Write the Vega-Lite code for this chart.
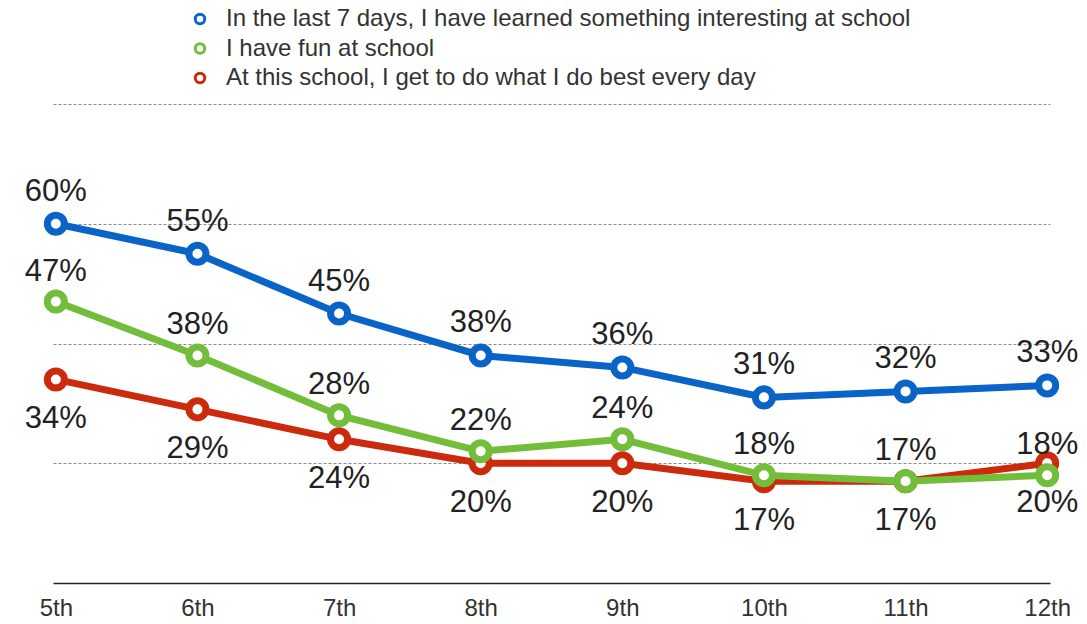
{
  "$schema": "https://vega.github.io/schema/vega-lite/v6.json",
  "width": 997,
  "height": 479,
  "autosize": {"type": "none"},
  "padding": {"left": 53, "top": 104, "right": 37, "bottom": 41},
  "background": "white",
  "config": {
    "view": {"stroke": null},
    "font": "Liberation Sans"
  },
  "data": {
    "values": [
      {"grade": "5th", "series": "In the last 7 days, I have learned something interesting at school", "value": 0.60},
      {"grade": "6th", "series": "In the last 7 days, I have learned something interesting at school", "value": 0.55},
      {"grade": "7th", "series": "In the last 7 days, I have learned something interesting at school", "value": 0.45},
      {"grade": "8th", "series": "In the last 7 days, I have learned something interesting at school", "value": 0.38},
      {"grade": "9th", "series": "In the last 7 days, I have learned something interesting at school", "value": 0.36},
      {"grade": "10th", "series": "In the last 7 days, I have learned something interesting at school", "value": 0.31},
      {"grade": "11th", "series": "In the last 7 days, I have learned something interesting at school", "value": 0.32},
      {"grade": "12th", "series": "In the last 7 days, I have learned something interesting at school", "value": 0.33},
      {"grade": "5th", "series": "I have fun at school", "value": 0.47},
      {"grade": "6th", "series": "I have fun at school", "value": 0.38},
      {"grade": "7th", "series": "I have fun at school", "value": 0.28},
      {"grade": "8th", "series": "I have fun at school", "value": 0.22},
      {"grade": "9th", "series": "I have fun at school", "value": 0.24},
      {"grade": "10th", "series": "I have fun at school", "value": 0.18},
      {"grade": "11th", "series": "I have fun at school", "value": 0.17},
      {"grade": "12th", "series": "I have fun at school", "value": 0.18},
      {"grade": "5th", "series": "At this school, I get to do what I do best every day", "value": 0.34},
      {"grade": "6th", "series": "At this school, I get to do what I do best every day", "value": 0.29},
      {"grade": "7th", "series": "At this school, I get to do what I do best every day", "value": 0.24},
      {"grade": "8th", "series": "At this school, I get to do what I do best every day", "value": 0.20},
      {"grade": "9th", "series": "At this school, I get to do what I do best every day", "value": 0.20},
      {"grade": "10th", "series": "At this school, I get to do what I do best every day", "value": 0.17},
      {"grade": "11th", "series": "At this school, I get to do what I do best every day", "value": 0.17},
      {"grade": "12th", "series": "At this school, I get to do what I do best every day", "value": 0.20}
    ]
  },
  "encoding": {
    "x": {
      "field": "grade",
      "type": "ordinal",
      "sort": ["5th", "6th", "7th", "8th", "9th", "10th", "11th", "12th"],
      "scale": {"type": "point", "padding": 0.02},
      "axis": {
        "title": null,
        "labelAngle": 0,
        "labelFontSize": 24,
        "labelColor": "#333333",
        "labelPadding": 13,
        "ticks": false,
        "domainColor": "#222222",
        "domainWidth": 1.5,
        "grid": false
      }
    },
    "y": {
      "field": "value",
      "type": "quantitative",
      "scale": {"domain": [0, 0.8], "nice": false, "zero": true},
      "axis": {
        "title": null,
        "values": [0.2, 0.4, 0.6, 0.8],
        "labels": false,
        "ticks": false,
        "domain": false,
        "grid": true,
        "gridColor": "#8a8a8a",
        "gridDash": [3, 2],
        "gridWidth": 1
      }
    }
  },
  "layer": [
    {
      "transform": [{"filter": "datum.series === 'At this school, I get to do what I do best every day'"}],
      "mark": {"type": "line", "strokeWidth": 7, "point": {"filled": false, "fill": "white", "size": 290, "strokeWidth": 7}},
      "encoding": {
        "color": {
          "field": "series",
          "type": "nominal",
          "scale": {
            "domain": ["In the last 7 days, I have learned something interesting at school", "I have fun at school", "At this school, I get to do what I do best every day"],
            "range": ["#0a64c8", "#72be3a", "#cc2a0c"]
          },
          "legend": {
            "title": null,
            "orient": "none",
            "legendX": 135,
            "legendY": -97,
            "symbolType": "circle",
            "symbolFillColor": "white",
            "symbolStrokeWidth": 3,
            "symbolSize": 90,
            "labelFontSize": 24,
            "labelColor": "#333333",
            "labelOffset": 14,
            "labelLimit": 900,
            "rowPadding": 5.5
          }
        }
      }
    },
    {
      "transform": [{"filter": "datum.series === 'I have fun at school'"}],
      "mark": {"type": "line", "strokeWidth": 7, "point": {"filled": false, "fill": "white", "size": 290, "strokeWidth": 7}},
      "encoding": {"color": {"field": "series", "type": "nominal"}}
    },
    {
      "transform": [{"filter": "datum.series === 'In the last 7 days, I have learned something interesting at school'"}],
      "mark": {"type": "line", "strokeWidth": 7, "point": {"filled": false, "fill": "white", "size": 290, "strokeWidth": 7}},
      "encoding": {"color": {"field": "series", "type": "nominal"}}
    },
    {
      "transform": [{"filter": "datum.series === 'In the last 7 days, I have learned something interesting at school'"}],
      "mark": {"type": "text", "dy": -32, "fontSize": 31, "color": "#222222"},
      "encoding": {"text": {"field": "value", "type": "quantitative", "format": ".0%"}}
    },
    {
      "transform": [{"filter": "datum.series === 'I have fun at school'"}],
      "mark": {"type": "text", "dy": -30, "fontSize": 31, "color": "#222222"},
      "encoding": {"text": {"field": "value", "type": "quantitative", "format": ".0%"}}
    },
    {
      "transform": [{"filter": "datum.series === 'At this school, I get to do what I do best every day'"}],
      "mark": {"type": "text", "dy": 40, "fontSize": 31, "color": "#222222"},
      "encoding": {"text": {"field": "value", "type": "quantitative", "format": ".0%"}}
    }
  ]
}
